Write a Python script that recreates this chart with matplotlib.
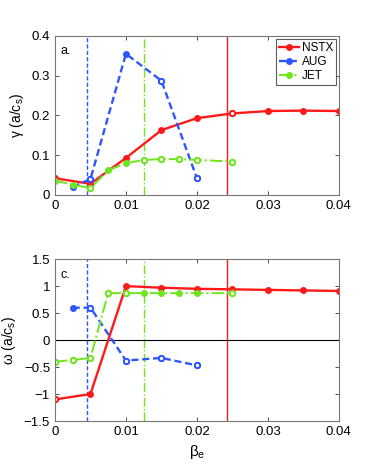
import numpy as np
import matplotlib.pyplot as plt

plt.rcParams['font.family'] = ['Liberation Sans', 'DejaVu Sans']
plt.rcParams['mathtext.default'] = 'regular'

# beta_e scans
beta_nstx = [0, 0.005, 0.01, 0.015, 0.02, 0.025, 0.03, 0.035, 0.04]
beta_aug  = [0.0025, 0.005, 0.01, 0.015, 0.02]
beta_jet  = [0, 0.0025, 0.005, 0.0075, 0.01, 0.0125, 0.015, 0.0175, 0.02, 0.025]

gamma_nstx = [0.042, 0.028, 0.093, 0.163, 0.193, 0.205, 0.211, 0.212, 0.211]
gamma_aug  = [0.020, 0.040, 0.355, 0.287, 0.042]
gamma_jet  = [0.036, 0.026, 0.017, 0.062, 0.080, 0.088, 0.090, 0.090, 0.088, 0.084]

omega_nstx = [-1.10, -1.00, 1.00, 0.97, 0.95, 0.94, 0.93, 0.92, 0.91]
omega_aug  = [0.60, 0.60, -0.38, -0.33, -0.47]
omega_jet  = [-0.40, -0.37, -0.33, 0.87, 0.87, 0.87, 0.87, 0.87, 0.87, 0.87]

# filled (True) / open (False) symbols
gfill_nstx = [True, True, True, True, True, False, True, True, True]
gfill_aug  = [True, False, True, False, False]
gfill_jet  = [True, True, False, True, True, False, False, False, False, False]
wfill_nstx = [False, True, True, True, True, True, True, True, True]
wfill_aug  = [True, False, False, False, False]
wfill_jet  = [False, False, False, False, False, True, True, True, True, False]

# experimental beta_e of each machine
beta_exp = {'NSTX': 0.0242, 'AUG': 0.0045, 'JET': 0.0125}

red = '#ff1a1a'
blue = '#2f55ff'
green = '#6ee61e'
styles = {'NSTX': dict(color=red, ls='-', lw=1.7),
          'AUG': dict(color=blue, ls=(0, (3, 1.6)), lw=1.7),
          'JET': dict(color=green, ls='-.', lw=1.4)}


def draw_series(ax, x, y, fills, name, label=None):
    st = styles[name]
    ax.plot(x, y, color=st['color'], ls=st['ls'], lw=st['lw'], label=label,
            marker='o', ms=4, mfc=st['color'], mec=st['color'])
    x = np.array(x)
    y = np.array(y)
    f = np.array(fills)
    ax.plot(x[~f], y[~f], ls='none', marker='o', ms=3.8, mfc='white',
            mec=st['color'], mew=1.4)


fig = plt.figure(figsize=(3.74, 4.72), dpi=100)
ax1 = fig.add_axes([0.147, 0.587, 0.759, 0.337])
ax2 = fig.add_axes([0.147, 0.108, 0.759, 0.343])

for name in ['NSTX', 'AUG', 'JET']:
    st = styles[name]
    for ax in (ax1, ax2):
        ax.axvline(beta_exp[name], color=st['color'], ls=st['ls'], lw=1.0)

draw_series(ax1, beta_nstx, gamma_nstx, gfill_nstx, 'NSTX', 'NSTX')
draw_series(ax1, beta_aug, gamma_aug, gfill_aug, 'AUG', 'AUG')
draw_series(ax1, beta_jet, gamma_jet, gfill_jet, 'JET', 'JET')

ax2.axhline(0, color='k', lw=0.8)
draw_series(ax2, beta_nstx, omega_nstx, wfill_nstx, 'NSTX')
draw_series(ax2, beta_aug, omega_aug, wfill_aug, 'AUG')
draw_series(ax2, beta_jet, omega_jet, wfill_jet, 'JET')

ax1.set_ylim(0, 0.4)
ax1.set_yticks([0, 0.1, 0.2, 0.3, 0.4])
ax1.set_yticklabels(['0', '0.1', '0.2', '0.3', '0.4'])
ax1.set_ylabel('γ (a/c$_s$)', fontsize=10)
ax1.text(0.02, 0.94, 'a.', transform=ax1.transAxes, fontsize=9, va='top')

ax2.set_ylim(-1.5, 1.5)
ax2.set_yticks([-1.5, -1, -0.5, 0, 0.5, 1, 1.5])
ax2.set_yticklabels(['\u22121.5', '\u22121', '\u22120.5', '0', '0.5', '1', '1.5'])
ax2.set_ylabel('ω (a/c$_s$)', fontsize=10)
ax2.set_xlabel('β$_e$', fontsize=11)
ax2.text(0.02, 0.94, 'c.', transform=ax2.transAxes, fontsize=9, va='top')

for ax in (ax1, ax2):
    ax.set_xlim(0, 0.04)
    ax.set_xticks([0, 0.01, 0.02, 0.03, 0.04])
    ax.set_xticklabels(['0', '0.01', '0.02', '0.03', '0.04'])
    ax.tick_params(direction='in', top=True, right=True, labelsize=9.5,
                   length=3, width=0.6, colors='#333333', labelcolor='black')
    for sp in ax.spines.values():
        sp.set_color('#777777')
        sp.set_linewidth(0.8)

leg = ax1.legend(loc='upper right', fontsize=8.5, frameon=True, fancybox=False,
                 edgecolor='#333333', handlelength=1.7, handletextpad=0.2,
                 borderpad=0.25, labelspacing=0.2, borderaxespad=0.25)
leg.get_frame().set_linewidth(0.8)

fig.savefig('out.png', dpi=100)
